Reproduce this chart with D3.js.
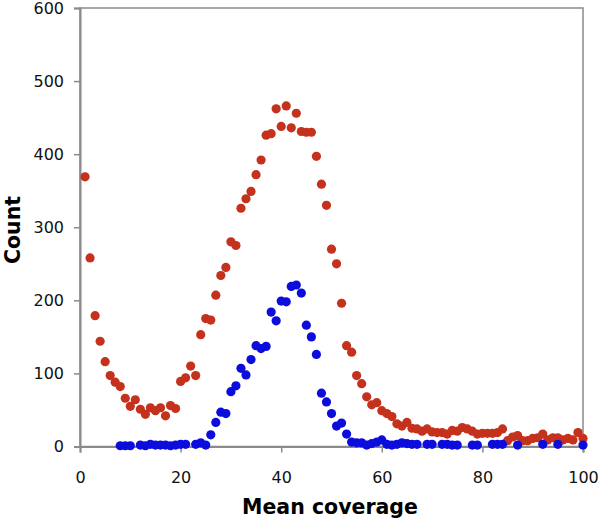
<!DOCTYPE html>
<html lang="en">
<head>
    <meta charset="UTF-8">
    <title>Mean coverage</title>
    <script src="https://d3js.org/d3.v7.min.js"></script>
    <style>
        body {
            margin: 0;
            background: #fff;
            font-family: "DejaVu Sans", Verdana, sans-serif;
        }
        .tick text {
            font-size: 16px;
            fill: #111;
        }
        .axis-title {
            font-size: 20.5px;
            font-weight: bold;
            fill: #000;
        }
    </style>
</head>
<body>
    <div id="chart"></div>
    <script>
        // red series: coverage 1..100
        const redX = d3.range(1, 101);
        const redCount = [
            369, 258, 179, 144, 116, 97, 88, 82, 66, 55,
            64, 51, 44, 53, 49, 53, 42, 56, 52, 89,
            94, 110, 97, 153, 175, 173, 207, 234, 245, 280,
            275, 326, 339, 349, 372, 392, 426, 428, 462, 438,
            466, 436, 456, 431, 430, 430, 397, 359, 330, 270,
            250, 196, 138, 129, 97, 86, 68, 57, 60, 49,
            45, 41, 31, 28, 33, 25, 24, 21, 24, 20,
            19, 19, 17, 22, 21, 26, 24, 21, 17, 18,
            18, 18, 19, 24, 8, 13, 15, 8, 8, 11,
            12, 17, 9, 12, 12, 9, 11, 9, 19, 11
        ];

        // blue series: only where points exist
        const blueX = [
            8, 9, 10, 12, 13, 14, 15, 16, 17, 18, 19, 20, 21,
            23, 24, 25, 26, 27, 28, 29, 30, 31, 32, 33, 34, 35,
            36, 37, 38, 39, 40, 41, 42, 43, 44, 45, 46, 47, 48,
            49, 50, 51, 52, 53, 54, 55, 56, 57, 58, 59, 60, 61,
            62, 63, 64, 65, 66, 67, 69, 70, 72, 73, 74, 75, 78,
            79, 82, 83, 84, 87, 92, 95, 100
        ];
        const blueCount = [
            1, 1, 1, 2, 1, 3, 2, 2, 2, 1, 2, 3, 3,
            3, 5, 2, 16, 33, 47, 45, 75, 83, 107, 98, 119, 138,
            134, 137, 184, 172, 199, 198, 219, 221, 210, 166, 150, 126, 73,
            61, 45, 28, 32, 17, 6, 5, 5, 2, 4, 6, 9, 3,
            2, 3, 5, 4, 3, 3, 3, 3, 3, 3, 2, 2, 2,
            2, 3, 3, 3, 2, 3, 3, 2
        ];

        const xTicks = [0, 20, 40, 60, 80, 100];
        const yTicks = [0, 100, 200, 300, 400, 500, 600];

        const width = 600, height = 523;
        const margin = { left: 80, right: 17, top: 8, bottom: 77 };

        const svg = d3.select("#chart").append("svg")
            .attr("width", width)
            .attr("height", height);

        const x = d3.scaleLinear().domain([0, 100])
            .range([margin.left, width - margin.right]);
        const y = d3.scaleLinear().domain([0, 600])
            .range([height - margin.bottom + 0.5, margin.top]);

        // frame (top and right)
        svg.append("rect")
            .attr("x", x(0)).attr("y", y(600))
            .attr("width", x(100) - x(0)).attr("height", y(0) - y(600))
            .attr("fill", "none").attr("stroke", "#8a8a8a").attr("stroke-width", 1.5);

        const xAxis = svg.append("g")
            .attr("transform", `translate(0,${y(0)})`)
            .call(d3.axisBottom(x).tickValues(xTicks).tickSize(6).tickPadding(19));
        const yAxis = svg.append("g")
            .attr("transform", `translate(${x(0)},0)`)
            .call(d3.axisLeft(y).tickValues(yTicks).tickSize(6).tickPadding(10));

        [xAxis, yAxis].forEach(g => {
            g.select(".domain").attr("stroke", "#8a8a8a").attr("stroke-width", 2);
            g.selectAll(".tick line").attr("stroke", "#8a8a8a").attr("stroke-width", 1.5);
        });
        svg.selectAll("g").attr("font-family", null).attr("font-size", null);

        const red = redX.map((d, i) => ({ x: d, y: redCount[i] }));
        const blue = blueX.map((d, i) => ({ x: d, y: blueCount[i] }));

        svg.append("g").selectAll("circle")
            .data(red)
            .enter()
            .append("circle")
            .attr("cx", d => x(d.x))
            .attr("cy", d => y(d.y))
            .attr("r", 4.6)
            .attr("fill", "#c4311c");

        svg.append("g").selectAll("circle")
            .data(blue)
            .enter()
            .append("circle")
            .attr("cx", d => x(d.x))
            .attr("cy", d => y(d.y))
            .attr("r", 4.6)
            .attr("fill", "#0c0cdc");

        svg.append("text")
            .attr("class", "axis-title")
            .attr("x", 330)
            .attr("y", 514)
            .attr("text-anchor", "middle")
            .text("Mean coverage");

        svg.append("text")
            .attr("class", "axis-title")
            .attr("transform", "translate(20,230) rotate(-90)")
            .attr("text-anchor", "middle")
            .style("font-size", "20.5px")
            .text("Count");
    </script>
</body>
</html>
